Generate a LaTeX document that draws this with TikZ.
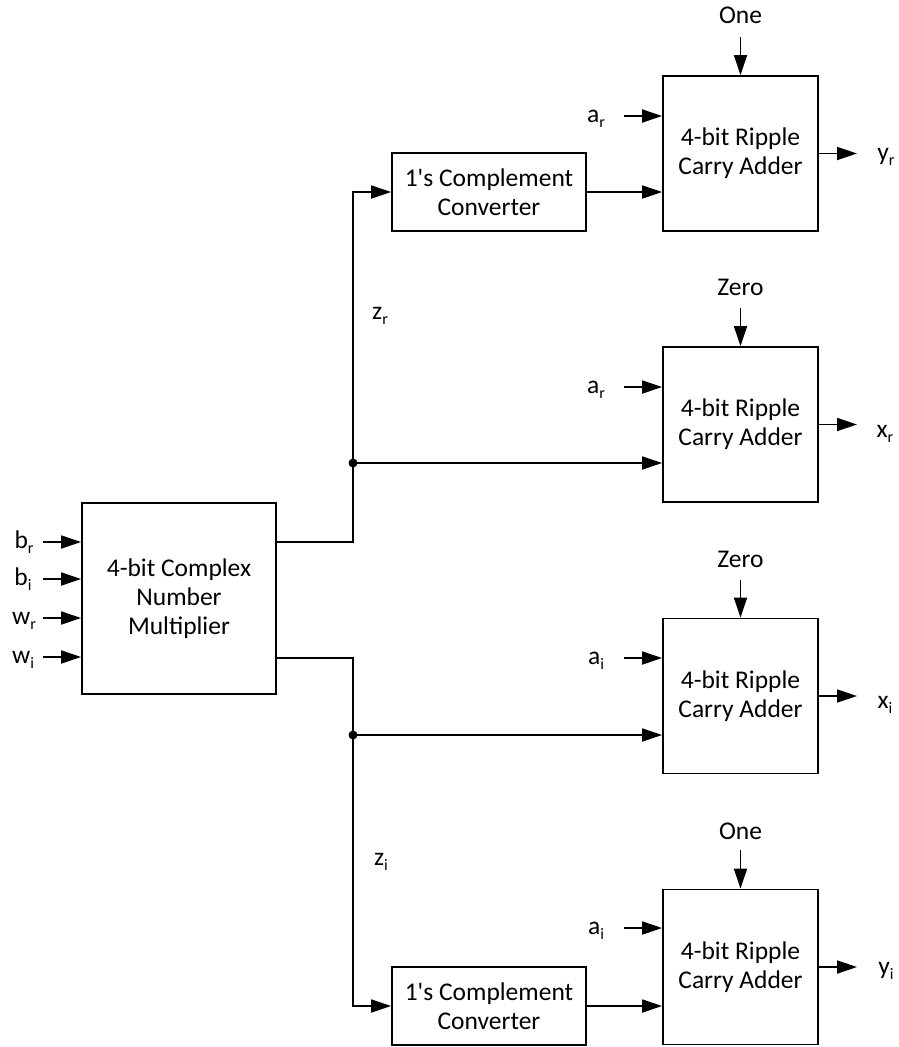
\documentclass[tikz,border=0pt]{standalone}
\usepackage{fontspec}
\setmainfont{Carlito}[Ligatures=TeXOff]
\usetikzlibrary{arrows.meta,calc}
\newcommand{\lsub}[1]{\raisebox{-5pt}{\fontsize{16}{16}\selectfont #1}}
\begin{document}
\begin{tikzpicture}[x=1pt,y=-1pt,
  every node/.style={font=\fontsize{25.5}{29}\selectfont},
  blk/.style={draw, line width=1.8pt, inner sep=0pt, align=center},
  wire/.style={line width=1.8pt},
  arr/.style={line width=1.8pt, -{Triangle[length=20pt,width=13pt]}},
  lbl/.style={inner sep=0pt, anchor=base},
  dot/.style={circle, fill, inner sep=0pt, minimum size=9pt}]
\useasboundingbox (0,0) rectangle (898,1047);

% blocks
\node[blk, minimum width=194pt, minimum height=191pt] (m) at (179,598.5) {4-bit Complex\\Number\\Multiplier};
\node[blk, minimum width=194pt, minimum height=78pt] (c1) at (489,192) {1's Complement\\Converter};
\node[blk, minimum width=194pt, minimum height=78pt] (c2) at (489,1006) {1's Complement\\Converter};
\node[blk, minimum width=155pt, minimum height=155pt] (a1) at (740.5,153.5) {4-bit Ripple\\Carry Adder};
\node[blk, minimum width=155pt, minimum height=155pt] (a2) at (740.5,424.5) {4-bit Ripple\\Carry Adder};
\node[blk, minimum width=155pt, minimum height=155pt] (a3) at (740.5,696) {4-bit Ripple\\Carry Adder};
\node[blk, minimum width=155pt, minimum height=155pt] (a4) at (740.5,967) {4-bit Ripple\\Carry Adder};

% multiplier inputs
\coordinate (ibr) at (43,542);
\coordinate (ibi) at (43,579);
\coordinate (iwr) at (43,618);
\coordinate (iwi) at (43,657);
\node[lbl] (lbr) at (24,548) {b\lsub{r}};
\node[lbl] (lbi) at (23,585) {b\lsub{i}};
\node[lbl] (lwr) at (24,624) {w\lsub{r}};
\node[lbl] (lwi) at (23,663) {w\lsub{i}};
\draw[arr] (ibr) -- (ibr -| m.west);
\draw[arr] (ibi) -- (ibi -| m.west);
\draw[arr] (iwr) -- (iwr -| m.west);
\draw[arr] (iwi) -- (iwi -| m.west);

% multiplier outputs and junctions
\coordinate (mo1) at (276,542);
\coordinate (mo2) at (276,658);
\node[dot] (j1) at (353,463) {};
\node[dot] (j2) at (353,735) {};
\draw[arr] (mo1) -- (mo1 -| j1.center) |- (c1.west);
\draw[arr] (mo2) -- (mo2 -| j2.center) |- (c2.west);
\draw[arr] (j1.center) -- (j1 -| a2.west);
\draw[arr] (j2.center) -- (j2 -| a3.west);
\node[lbl] (lzr) at (380,319) {z\lsub{r}};
\node[lbl] (lzi) at (381,865) {z\lsub{i}};

% converters to adders
\draw[arr] (c1.east) -- (c1.east -| a1.west);
\draw[arr] (c2.east) -- (c2.east -| a4.west);

% a inputs
\coordinate (sa1) at (624,116);
\coordinate (sa2) at (624,387);
\coordinate (sa3) at (624,658);
\coordinate (sa4) at (624,928);
\draw[arr] (sa1) -- (sa1 -| a1.west);
\draw[arr] (sa2) -- (sa2 -| a2.west);
\draw[arr] (sa3) -- (sa3 -| a3.west);
\draw[arr] (sa4) -- (sa4 -| a4.west);
\node[lbl] (la1) at (596,122) {a\lsub{r}};
\node[lbl] (la2) at (596,393) {a\lsub{r}};
\node[lbl] (la3) at (596,664) {a\lsub{i}};
\node[lbl] (la4) at (596,934) {a\lsub{i}};

% carry inputs
\coordinate (sc1) at (740.5,37);
\coordinate (sc2) at (740.5,308);
\coordinate (sc3) at (740.5,580);
\coordinate (sc4) at (740.5,850);
\draw[arr] (sc1) -- (a1.north);
\draw[arr] (sc2) -- (a2.north);
\draw[arr] (sc3) -- (a3.north);
\draw[arr] (sc4) -- (a4.north);
\node[lbl] (lc1) at (740.5,23) {One};
\node[lbl] (lc2) at (740.5,295) {Zero};
\node[lbl] (lc3) at (740.5,567) {Zero};
\node[lbl] (lc4) at (740.5,839) {One};

% outputs
\coordinate (eo1) at (857,153.5);
\coordinate (eo2) at (857,424.5);
\coordinate (eo3) at (857,696);
\coordinate (eo4) at (857,967);
\draw[arr] (a1.east) -- (eo1);
\draw[arr] (a2.east) -- (eo2);
\draw[arr] (a3.east) -- (eo3);
\draw[arr] (a4.east) -- (eo4);
\node[lbl] (lo1) at (886,160) {y\lsub{r}};
\node[lbl] (lo2) at (885,437) {x\lsub{r}};
\node[lbl] (lo3) at (885,708) {x\lsub{i}};
\node[lbl] (lo4) at (886,974) {y\lsub{i}};
\end{tikzpicture}
\end{document}
